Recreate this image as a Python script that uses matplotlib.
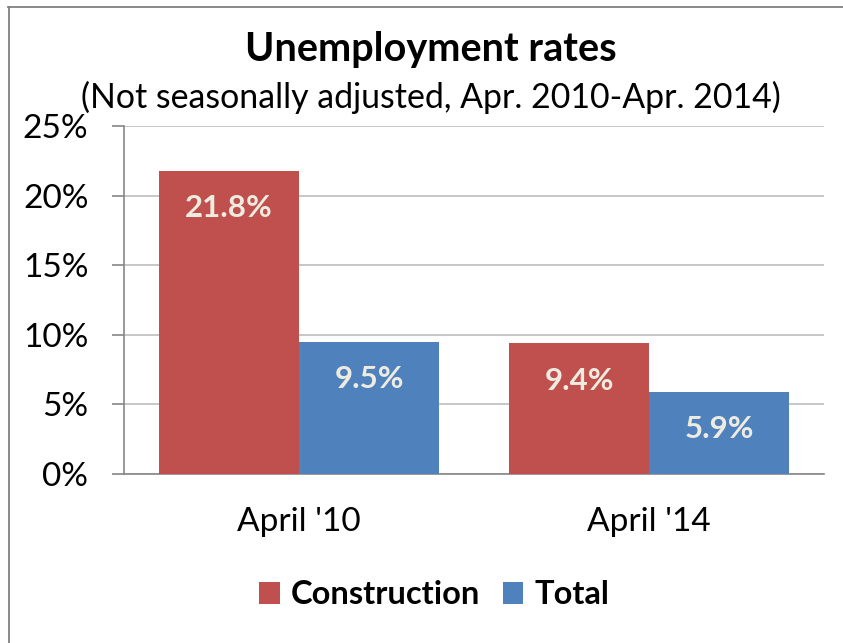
import matplotlib
matplotlib.use("Agg")
import matplotlib.pyplot as plt
from matplotlib.lines import Line2D
import numpy as np

categories = ["April '10", "April '14"]
series_names = ["Construction", "Total"]
construction = [21.8, 9.4]
total = [9.5, 5.9]
yticks = [0, 5, 10, 15, 20, 25]
ytick_labels = ["0%", "5%", "10%", "15%", "20%", "25%"]

RED = "#C0504D"
BLUE = "#4F81BD"
LABEL = "#EEECE1"
FONT = "Lato"

W, H = 843, 643
fig = plt.figure(figsize=(W / 100, H / 100), dpi=100)
fig.patch.set_facecolor("white")

# chart-area frame (top and left edges visible)
fig.add_artist(Line2D([8 / W, 1.0], [1 - 6.5 / H, 1 - 6.5 / H], color="#808080", lw=1.3,
                      transform=fig.transFigure))
fig.add_artist(Line2D([8.5 / W, 8.5 / W], [0, 1 - 6.5 / H], color="#808080", lw=1.3,
                      transform=fig.transFigure))

x0, x1, ytop, ybot = 124, 824, 126, 474
ax = fig.add_axes([x0 / W, (H - ybot) / H, (x1 - x0) / W, (ybot - ytop) / H])

x = np.arange(len(categories))
bw = 0.4
b1 = ax.bar(x - bw / 2, construction, bw, color=RED, label=series_names[0], zorder=3)
b2 = ax.bar(x + bw / 2, total, bw, color=BLUE, label=series_names[1], zorder=3)

for bars, vals in ((b1, construction), (b2, total)):
    for r, v in zip(bars, vals):
        ax.annotate(f"{v:.1f}%", (r.get_x() + r.get_width() / 2, v), xytext=(0, -27),
                    textcoords="offset points", ha="center", va="center",
                    color=LABEL, fontsize=22.5, fontweight="bold", family=FONT, zorder=4)

ax.set_xlim(-0.5, len(categories) - 0.5)
ax.set_ylim(0, 25)
ax.set_yticks(yticks)
ax.set_yticklabels(ytick_labels, family=FONT, fontsize=24)
ax.set_xticks(x)
ax.set_xticklabels(categories, family=FONT, fontsize=24)
ax.yaxis.grid(True, color="#BEBEBE", lw=1.2, zorder=0)
ax.set_axisbelow(True)
for s in ("top", "right"):
    ax.spines[s].set_visible(False)
for s in ("left", "bottom"):
    ax.spines[s].set_color("#868686")
    ax.spines[s].set_linewidth(1.2)
ax.tick_params(axis="y", length=8.6, width=1.2, color="#868686", pad=17)
ax.tick_params(axis="x", length=0, pad=24)

fig.text(431 / W, 1 - 49 / H, "Unemployment rates", ha="center", va="center",
         fontsize=28.5, fontweight="bold", family=FONT)
fig.text(431 / W, 1 - 97 / H, "(Not seasonally adjusted, Apr. 2010-Apr. 2014)", ha="center",
         va="center", fontsize=24.4, family=FONT)

leg = fig.legend(handles=[b1, b2], labels=series_names, loc="center",
                 bbox_to_anchor=(434.5 / W, 1 - 595 / H), ncol=2, frameon=False,
                 prop={"family": FONT, "weight": "bold", "size": 23.5},
                 handlelength=0.62, handleheight=0.62, handletextpad=0.35, columnspacing=0.7)

fig.savefig("out.png", dpi=100, facecolor="white")
